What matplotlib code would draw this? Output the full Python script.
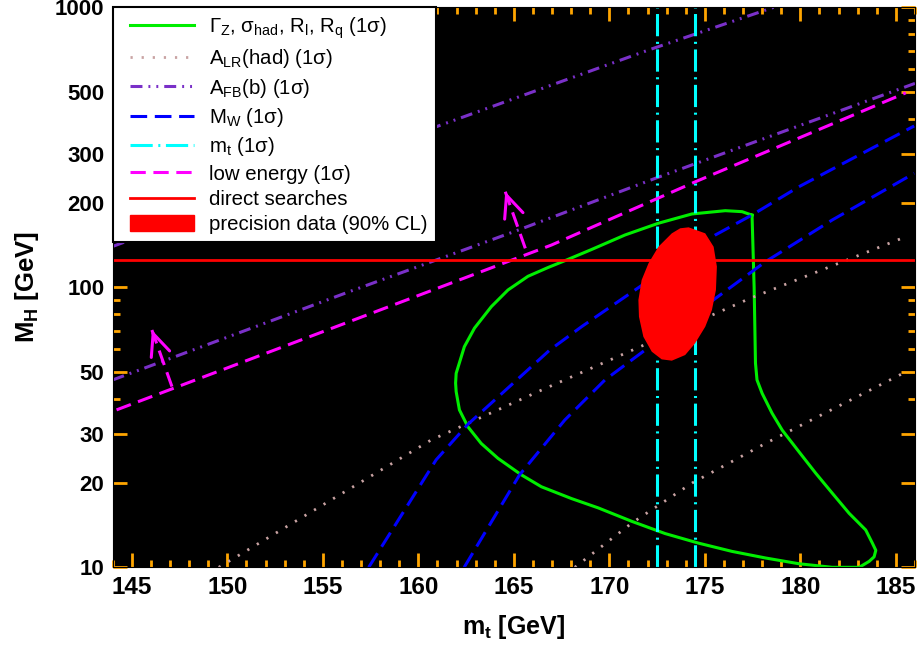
import numpy as np
import matplotlib
matplotlib.use('Agg')
import matplotlib.pyplot as plt
from matplotlib.lines import Line2D
from matplotlib.patches import Patch
from matplotlib.legend_handler import HandlerLine2D, HandlerPatch
from matplotlib.ticker import FixedLocator, NullFormatter

plt.rcParams['font.family'] = ['Liberation Sans', 'DejaVu Sans']
plt.rcParams['mathtext.fontset'] = 'custom'
plt.rcParams['mathtext.rm'] = 'Liberation Sans'
plt.rcParams['mathtext.it'] = 'Liberation Sans:italic'
plt.rcParams['mathtext.bf'] = 'Liberation Sans:bold'
plt.rcParams['lines.scale_dashes'] = False

# Gamma_Z, sigma_had, R_l, R_q contour (1 sigma)
gz_mt = [177.47, 176.95, 176.07, 174.32, 172.57, 170.82, 169.07, 167.76, 166.79,
         165.74, 164.69, 163.82, 162.94, 162.41, 161.98, 161.95, 161.98, 162.15,
         162.59, 163.29, 164.17, 165.39, 166.44, 168.02, 169.42, 171.17, 172.92,
         174.67, 176.42, 178.17, 179.92, 181.67, 183.08, 183.60, 183.86, 183.95,
         183.77, 183.42, 182.55, 181.67, 180.80, 179.92, 179.05, 178.52, 178.0,
         177.73, 177.65, 177.58, 177.47]
gz_mh = [181, 186.3, 187.8, 182.8, 169.4, 153.8, 136.5, 125.2, 117.7,
         109.5, 97.8, 85.3, 71.5, 61.4, 49.3, 45.5, 42.4, 36.5,
         31.8, 27.7, 24.5, 21.4, 19.4, 17.6, 16.3, 14.6, 13.2,
         12.2, 11.4, 10.8, 10.3, 10.0, 10.0, 10.5, 10.9, 11.5,
         12.2, 13.6, 15.6, 18.4, 21.7, 25.9, 30.9, 35.5, 41.8,
         46.7, 53.6, 100, 181]

# A_LR(had) band edges
alr1_mt = [149.55, 160.67, 166.53, 177.38, 185.52]
alr1_mh = [10, 28.5, 43.2, 91.4, 151.6]
alr2_mt = [168.19, 171.18, 174.33, 178.17, 185.52]
alr2_mh = [10, 14.4, 20, 27.7, 49.9]

# A_FB(b) band edges
afb1_mt = [144, 161.05, 172.05, 178.6]
afb1_mh = [140, 377, 704, 1000]
afb2_mt = [144, 156.37, 165, 172.4, 186]
afb2_mh = [46.7, 96.4, 158, 245, 535]

# M_W band edges
mw1_mt = [157.4, 160.93, 162.59, 166.88, 168.54, 175.54, 177.47, 179.92, 185.96]
mw1_mh = [10, 24.2, 32.4, 59.7, 72.3, 153.7, 181.3, 228.6, 376.9]
mw2_mt = [162.4, 165.3, 167.67, 169.77, 171.87, 178.17, 181.67, 185.96]
mw2_mh = [10, 21.4, 33.6, 46.7, 59.7, 123.4, 174, 255.4]

# m_t band
mt_band = [172.5, 174.5]

# low energy
low_mt = [144.2, 166.97, 174.49, 185.52]
low_mh = [36.5, 141.6, 238, 495]
arrow_base_mt = [147.1, 165.6]
arrow_base_mh = [44.2, 137.8]
arrow_tip_mt = [146.05, 164.55]
arrow_tip_mh = [70.4, 219.5]

# direct searches
direct_mh = 125

# precision data 90% CL
ell_mt = [174.15, 175.02, 175.46, 175.63, 175.58, 175.37, 175.02, 174.49, 173.97,
          173.27, 172.74, 172.22, 171.78, 171.55, 171.52, 171.69, 172.05, 172.57,
          173.27, 173.71]
ell_mh = [163.8, 155.9, 139.6, 118.6, 97.8, 83.0, 72.3, 63.1, 57.3,
          54.7, 55.3, 58.9, 66.6, 78.5, 90.1, 106.2, 121.9, 139.7,
          155.9, 162.5]

x_major = [145, 150, 155, 160, 165, 170, 175, 180, 185]
y_major = [10, 20, 30, 50, 100, 200, 300, 500, 1000]
y_minor = [40, 60, 70, 80, 90, 400, 600, 700, 800, 900]

green = '#00ee00'
pink = '#c9a3a3'
purple = '#7a30c8'
blue = '#0000ff'
cyan = '#00ffff'
magenta = '#ff00ff'
red = '#ff0000'

st_green = dict(color=green, lw=2.2)
st_alr = dict(color=pink, lw=2.0, dashes=(1.6, 6.4))
st_afb = dict(color=purple, lw=2.2, dashes=(8.6, 4.3, 1.4, 4.3, 1.4, 4.3))
st_mw = dict(color=blue, lw=2.2, dashes=(12, 5.5))
st_mt = dict(color=cyan, lw=2.2, dashes=(16, 4, 1.5, 4))
st_low = dict(color=magenta, lw=2.2, dashes=(11, 5.5))
st_dir = dict(color=red, lw=2.0)

fig = plt.figure(figsize=(9.18, 6.48), dpi=100)
ax = fig.add_axes([0.1228, 0.1245, 0.8739, 0.8642])
ax.set_facecolor('black')

ax.plot(gz_mt, gz_mh, **st_green)
ax.plot(alr1_mt, alr1_mh, **st_alr)
ax.plot(alr2_mt, alr2_mh, **st_alr)
ax.plot(afb1_mt, afb1_mh, **st_afb)
ax.plot(afb2_mt, afb2_mh, **st_afb)
ax.plot(mw1_mt, mw1_mh, **st_mw)
ax.plot(mw2_mt, mw2_mh, **st_mw)
for m in mt_band:
    ax.axvline(m, **st_mt)
ax.plot(low_mt, low_mh, **st_low)
for bx, by, tx, ty in zip(arrow_base_mt, arrow_base_mh, arrow_tip_mt, arrow_tip_mh):
    ax.plot([bx, tx], [by, ty], **st_low)
    hx = tx + 0.15 * (bx - tx)
    hy = ty * (by / ty) ** 0.15
    ax.annotate('', xy=(tx, ty), xytext=(hx, hy),
                arrowprops=dict(arrowstyle='->,head_length=0.45,head_width=0.2',
                                mutation_scale=35, color=magenta, lw=2.2,
                                shrinkA=0, shrinkB=0))
ax.axhline(direct_mh, **st_dir)
ax.fill(ell_mt, ell_mh, color=red, lw=0, zorder=5)

ax.set_yscale('log')
ax.set_xlim(144, 186)
ax.set_ylim(10, 1000)
ax.xaxis.set_major_locator(FixedLocator(x_major))
ax.xaxis.set_minor_locator(FixedLocator(np.arange(144, 187, 1)))
ax.yaxis.set_major_locator(FixedLocator(y_major))
ax.yaxis.set_minor_locator(FixedLocator(y_minor))
ax.yaxis.set_minor_formatter(NullFormatter())
ax.set_xticklabels([str(v) for v in x_major])
ax.set_yticklabels([str(v) for v in y_major])

ax.tick_params(which='both', direction='in', top=True, right=True, color='#ffa500')
ax.tick_params(which='major', length=10, width=2)
ax.tick_params(which='minor', length=5, width=2)
ax.tick_params(axis='x', which='major', labelsize=17.5, pad=6)
ax.tick_params(axis='y', which='major', labelsize=16, pad=6)
for lab in ax.get_xticklabels() + ax.get_yticklabels():
    lab.set_fontweight('bold')

ax.set_xlabel('m$_\\mathbf{t}$ [GeV]', fontsize=18, fontweight='bold', labelpad=10)
ax.set_ylabel('M$_\\mathbf{H}$ [GeV]', fontsize=18.5, fontweight='bold', labelpad=10)

handles = [
    Line2D([], [], **st_green),
    Line2D([], [], **st_alr),
    Line2D([], [], **st_afb),
    Line2D([], [], **st_mw),
    Line2D([], [], **st_mt),
    Line2D([], [], **st_low),
    Line2D([], [], **st_dir),
    Patch(facecolor=red, edgecolor=red),
]
labels = [
    '\u0393$_\\mathrm{Z}$, \u03c3$_\\mathrm{had}$, R$_\\mathrm{l}$, R$_\\mathrm{q}$ (1\u03c3)',
    'A$_\\mathrm{LR}$(had) (1\u03c3)',
    'A$_\\mathrm{FB}$(b) (1\u03c3)',
    'M$_\\mathrm{W}$ (1\u03c3)',
    'm$_\\mathrm{t}$ (1\u03c3)',
    'low energy (1\u03c3)',
    'direct searches',
    'precision data (90% CL)',
]
leg = ax.legend(handles, labels, loc='upper left', borderaxespad=0, fontsize=14.7,
                fancybox=False, framealpha=1, edgecolor='black', handlelength=3.6,
                handleheight=0.8, handletextpad=0.72, labelspacing=0.31,
                borderpad=0.4,
                handler_map={Line2D: HandlerLine2D(xpad=0.47),
                             Patch: HandlerPatch(xpad=0.47)})
leg.get_frame().set_linewidth(1.5)
leg.set_zorder(10)

fig.savefig('out.png', dpi=100, facecolor='white')
